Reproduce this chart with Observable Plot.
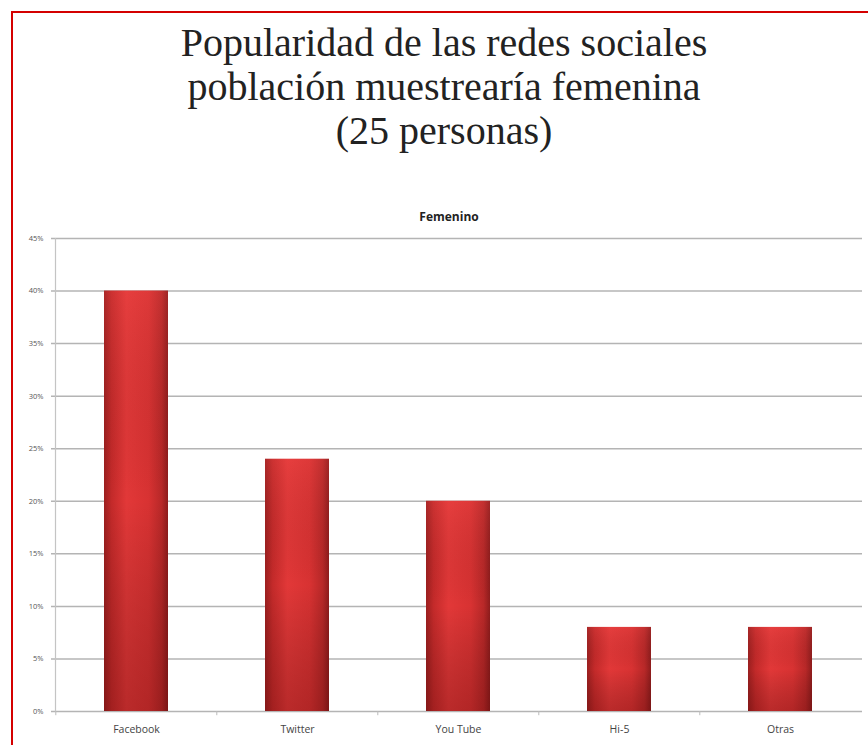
<!DOCTYPE html>
<html>
<head>
<meta charset="utf-8">
<script src="https://cdn.jsdelivr.net/npm/d3@7"></script>
<script src="https://cdn.jsdelivr.net/npm/@observablehq/plot@0.6"></script>
<style>
  html, body { margin: 0; padding: 0; background: #fff; }
  #page { position: relative; width: 868px; height: 745px; overflow: hidden; background: #fff; }
  #border { position: absolute; left: 11px; top: 11px; width: 900px; height: 800px;
            border-left: 2px solid #d40000; border-top: 2px solid #d40000; }
  #title { position: absolute; left: 0; top: 21px; width: 888px; text-align: center;
           font-family: "Liberation Serif", "DejaVu Serif", serif; font-size: 40px; line-height: 44px; color: #222; }
  #chart { position: absolute; left: 0; top: 195px; }
</style>
</head>
<body>
<div id="page">
  <div id="border"></div>
  <div id="title">Popularidad de las redes sociales<br>población muestrearía femenina<br>(25 personas)</div>
  <div id="chart"></div>
</div>
<script>
const categories = ["Facebook", "Twitter", "You Tube", "Hi-5", "Otras"];
const values = [40, 24, 20, 8, 8];
const yTicks = [0, 5, 10, 15, 20, 25, 30, 35, 40, 45];
const chartTitle = "Femenino";

const data = categories.map((c, i) => ({cat: c, v: values[i]}));

const plot = Plot.plot({
  width: 868,
  height: 550,
  marginLeft: 55,
  marginRight: 6,
  marginTop: 43,
  marginBottom: 34,
  style: {fontFamily: "'Open Sans', 'Liberation Sans', sans-serif", background: "transparent"},
  x: {domain: categories, paddingInner: 0.6, paddingOuter: 0.3, label: null},
  y: {domain: [0, 45], label: null},
  marks: [
    Plot.ruleY(yTicks, {y: d => d, stroke: "#b4b4b4", strokeWidth: 1.5, insetLeft: -4}),
    Plot.frame({anchor: "left", stroke: "#c4c4c4", strokeWidth: 1.2}),
    Plot.ruleX(categories, {x: d => d, dx: -80.7, y1: 0, y2: -0.4, stroke: "#bbb"}),
    Plot.barY(data, {x: "cat", y: "v", fill: "url(#barH)"}),
    Plot.barY(data, {x: "cat", y: "v", fill: "url(#barV)"}),
    Plot.ruleY(data, {x: "cat", y: "v", stroke: "#f08080", strokeWidth: 1.2}),
    Plot.axisY({ticks: yTicks, tickFormat: d => d + "%", tickSize: 0, tickPadding: 12,
                fontSize: 7.5, fill: "#555"}),
    Plot.axisX({tickSize: 0, tickPadding: 14, fontSize: 10.5, fill: "#444"}),
    Plot.text([chartTitle], {frameAnchor: "top", dy: -26, dx: -10, fontWeight: "bold", fontSize: 12,
                             fill: "#222", fontFamily: "'Open Sans', sans-serif"})
  ]
});

const svg = d3.select(plot);
const defs = svg.insert("defs", ":first-child");
const gh = defs.append("linearGradient").attr("id", "barH").attr("x1", "0").attr("x2", "1").attr("y1", "0").attr("y2", "0");
[["0", "#9c1f1f"], ["0.12", "#c42a2a"], ["0.35", "#e23838"], ["0.7", "#d83232"], ["0.9", "#b82828"], ["1", "#8e1c1c"]]
  .forEach(([o, c]) => gh.append("stop").attr("offset", o).attr("stop-color", c));
const gv = defs.append("linearGradient").attr("id", "barV").attr("x1", "0").attr("x2", "0").attr("y1", "0").attr("y2", "1");
[["0", "#ff6060", 0.15], ["0.5", "#000", 0], ["1", "#400000", 0.25]]
  .forEach(([o, c, a]) => gv.append("stop").attr("offset", o).attr("stop-color", c).attr("stop-opacity", a));

document.getElementById("chart").appendChild(plot);
</script>
</body>
</html>
